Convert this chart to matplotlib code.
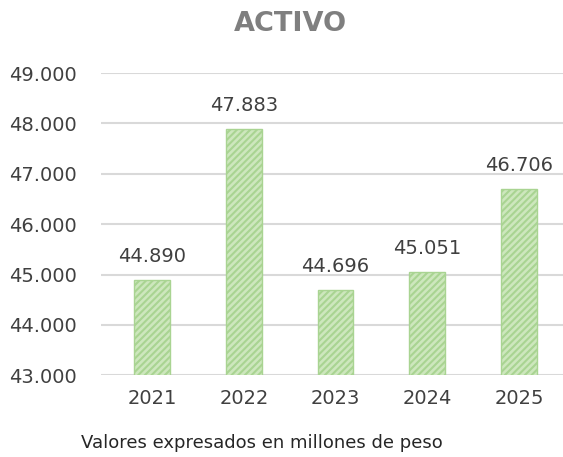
import matplotlib
matplotlib.use('Agg')
import matplotlib.pyplot as plt
from matplotlib.ticker import FuncFormatter

years = ['2021', '2022', '2023', '2024', '2025']
activo = [44890, 47883, 44696, 45051, 46706]
y_ticks = [43000, 44000, 45000, 46000, 47000, 48000, 49000]

plt.rcParams['font.family'] = ['DejaVu Sans']
plt.rcParams['hatch.color'] = '#5fa83c'
plt.rcParams['hatch.linewidth'] = 1.5

fig = plt.figure(figsize=(5.63, 4.57), dpi=100)
ax = fig.add_axes([0.179, 0.179, 0.821, 0.661])

x = range(len(years))
ax.bar(x, activo, width=0.39, bottom=0, color='#cde7bd', edgecolor='#a9d492',
       linewidth=1.0, hatch='/////', zorder=3)

def fmt(v):
    return '{:,.0f}'.format(v).replace(',', '.')

for xi, v in zip(x, activo):
    ax.annotate(fmt(v), (xi, v), xytext=(0, 10), textcoords='offset points',
                ha='center', va='bottom', fontsize=14, color='#404040')

ax.set_ylim(43000, 49000)
ax.set_xlim(-0.56, 4.48)
ax.set_yticks(y_ticks)
ax.yaxis.set_major_formatter(FuncFormatter(lambda v, p: fmt(v)))
ax.set_xticks(list(x))
ax.set_xticklabels(years)
ax.tick_params(axis='both', length=0, labelsize=14, labelcolor='#404040')
ax.tick_params(axis='y', pad=17)
ax.tick_params(axis='x', pad=10)
ax.grid(axis='y', color='#d9d9d9', linewidth=1.5, zorder=0)
for s in ax.spines.values():
    s.set_visible(False)

fig.text(0.515, 0.948, 'ACTIVO', ha='center', va='center', fontsize=19.5,
         fontweight='bold', color='#7f7f7f')
fig.text(0.465, 0.031, 'Valores expresados en millones de peso', ha='center',
         va='center', fontsize=13, color='#262626')

fig.savefig('out.png', dpi=100)
